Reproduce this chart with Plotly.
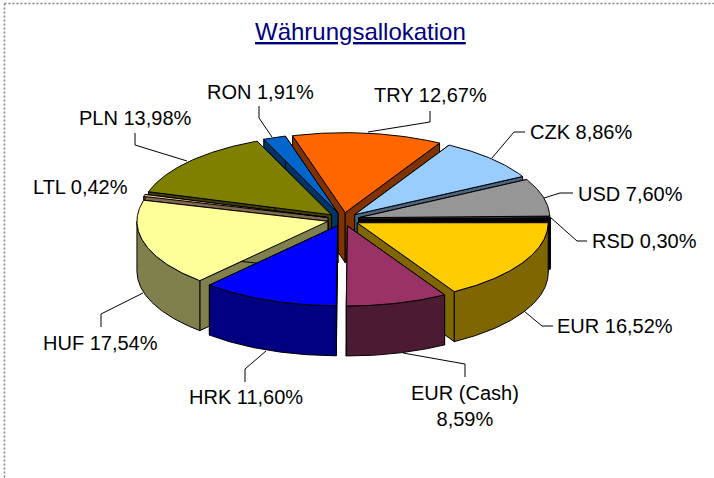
import math
import plotly.graph_objects as go

# ---- data ----
categories = ["TRY", "CZK", "USD", "RSD", "EUR", "EUR (Cash)", "HRK", "HUF", "LTL", "PLN", "RON"]
values = [12.67, 8.86, 7.60, 0.30, 16.52, 8.59, 11.60, 17.54, 0.42, 13.98, 1.91]
label_texts = ["TRY 12,67%", "CZK 8,86%", "USD 7,60%", "RSD 0,30%", "EUR 16,52%", "EUR (Cash)<br>8,59%",
               "HRK 11,60%", "HUF 17,54%", "LTL 0,42%", "PLN 13,98%", "RON 1,91%"]
top_colors = ["#FF6600", "#99CCFF", "#969696", "#000000", "#FFCC00", "#993366",
              "#0000FF", "#FFFF99", "#FFCC99", "#808000", "#0066CC"]
side_colors = ["#803300", "#4D6680", "#4B4B4B", "#000000", "#806600", "#4D1A33",
               "#000080", "#80804D", "#80664D", "#404000", "#003366"]
title_text = "Währungsallokation"

# ---- layout of the pie (pixels, the axes are 1:1 with the page) ----
CX, CY = 343.3, 219.4
RX, RY = 191.0, 80.0
EX, EY = 16.0, 6.8
DEPTH = 50.0
START = -16.0

label_pos = [(430, 95), (580.5, 132), (630.5, 194), (644.5, 241), (615, 326), (465, 405.5),
             (245.5, 397), (100.5, 343), (80.5, 187), (135.5, 118), (260, 92)]
leaders = [[(430, 111), (430, 122), (368, 132)],
           [(525, 132), (514, 132), (492, 158)],
           [(573, 193), (560, 193), (544, 198)],
           [(587, 241), (577, 241), (550, 217)],
           [(553, 326), (542, 326), (524, 311)],
           [(465, 377), (465, 364), (403, 353)],
           [(245, 382), (245, 369), (266, 351)],
           [(101, 327), (101, 314), (143, 293)],
           [(135, 133), (135, 145), (187, 161)],
           [(259, 106), (259, 118), (272, 137)]]

total = sum(values)
fig = go.Figure()


def poly(xs, ys, color, name):
    fig.add_trace(go.Scatter(x=xs + xs[:1], y=ys + ys[:1], mode="lines", fill="toself", fillcolor=color,
                             line=dict(color="#000000", width=1.0), name=name, hoverinfo="name",
                             showlegend=False))


slices = []
a = START
for cat, v, top, side in zip(categories, values, top_colors, side_colors):
    sweep = v / total * 360.0
    slices.append((cat, a, a + sweep, top, side))
    a += sweep


def depth_key(s):
    mid = math.radians((s[1] + s[2]) / 2)
    return -math.cos(mid)


for cat, a0, a1, top, side in sorted(slices, key=depth_key):
    mid = math.radians((a0 + a1) / 2)
    ax = CX + EX * math.sin(mid)
    ay = CY - EY * math.cos(mid)
    n = max(3, int(a1 - a0) * 2)
    angs = [math.radians(a0 + (a1 - a0) * i / n) for i in range(n + 1)]
    xs = [ax + RX * math.sin(t) for t in angs]
    ys = [ay - RY * math.cos(t) for t in angs]
    # radial cut faces
    poly([ax, xs[0], xs[0], ax], [ay, ys[0], ys[0] + DEPTH, ay + DEPTH], side, cat)
    poly([ax, xs[-1], xs[-1], ax], [ay, ys[-1], ys[-1] + DEPTH, ay + DEPTH], side, cat)
    # outer rim (front part only)
    fx = [x for x, t in zip(xs, angs) if math.cos(t) <= 0.0]
    fy = [y for y, t in zip(ys, angs) if math.cos(t) <= 0.0]
    if len(fx) > 1:
        poly(fx + fx[::-1], fy + [y + DEPTH for y in fy[::-1]], side, cat)
    # top
    poly([ax] + xs, [ay] + ys, top, cat)

shapes = [
    dict(type="line", x0=4.5, x1=714, y0=3.5, y1=3.5, line=dict(color="#808080", width=1.5, dash="2px,2px")),
    dict(type="line", x0=4.5, x1=4.5, y0=3.5, y1=478, line=dict(color="#808080", width=1.5, dash="2px,2px")),
]
for pts in leaders:
    path = "M " + " L ".join(f"{x},{y}" for x, y in pts)
    shapes.append(dict(type="path", path=path, line=dict(color="#000000", width=1)))

annotations = [dict(x=360.5, y=31, text=title_text, showarrow=False, xanchor="center", yanchor="middle",
                    font=dict(family="Liberation Sans", size=24, color="#000080", lineposition="under"))]
for txt, (x, y) in zip(label_texts, label_pos):
    annotations.append(dict(x=x, y=y, text=txt, showarrow=False, xanchor="center", yanchor="middle",
                            font=dict(family="Liberation Sans", size=20, color="#000000")))

fig.update_layout(
    width=714, height=478, margin=dict(l=0, r=0, t=0, b=0),
    paper_bgcolor="#FFFFFF", plot_bgcolor="#FFFFFF",
    xaxis=dict(range=[0, 714], visible=False, fixedrange=True),
    yaxis=dict(range=[478, 0], visible=False, fixedrange=True),
    shapes=shapes, annotations=annotations, showlegend=False,
)
fig.write_html("out.html", post_script="document.body.style.margin='0';", config={"displayModeBar": False})
